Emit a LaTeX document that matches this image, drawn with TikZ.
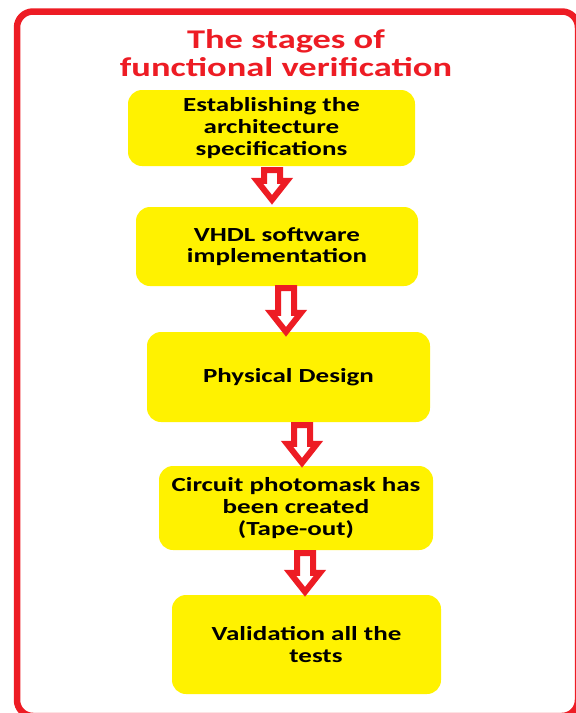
\documentclass[tikz,border=0pt]{standalone}
\usepackage{fontspec}
\setmainfont{Carlito}[FakeStretch=1.35]
\usetikzlibrary{calc}
\definecolor{framered}{RGB}{237,28,36}
\definecolor{stageyellow}{RGB}{255,242,0}
\tikzset{every node/.style={inner sep=0pt},
  stage/.style={fill=stageyellow, rounded corners=14pt, align=center,
                font=\fontsize{20}{21.7}\selectfont\bfseries},
  heading/.style={text=framered, align=center,
                font=\fontsize{27}{27.6}\selectfont\bfseries},
  stagearrow/.style={draw=framered, fill=white, line width=6pt, to path={
    let \p1=(\tikztostart), \p2=(\tikztotarget) in
    (\x1-8pt,\y1) -- (\x1-8pt,\y2+19pt) -- (\x1-15pt,\y2+19pt) -- (\x1,\y2)
    -- (\x1+15pt,\y2+19pt) -- (\x1+8pt,\y2+19pt) -- (\x1+8pt,\y1) -- cycle}}}

\begin{document}
\begin{tikzpicture}[x=1pt,y=-1pt]
   \useasboundingbox (0,0) rectangle (576,713);
   \clip (0,0) rectangle (576,713);
   % outer frame
   \draw[framered, line width=6.5pt, rounded corners=16pt] (17,11.5) rectangle (578,716);
   \node[heading] (title) at (286,53) {The stages of\\functional verification};
   % the stages
   \node[stage, minimum width=287pt, minimum height=76pt] (s1) at (271.5,128)
        {Establishing the\\architecture\\specifications};
   \node[stage, minimum width=282pt, minimum height=79pt] (s2) at (277,246.5)
        {VHDL software\\implementation};
   \node[stage, minimum width=283pt, minimum height=90pt] (s3) at (288.5,377)
        {Physical Design};
   \node[stage, minimum width=274pt, minimum height=84pt] (s4) at (296,508)
        {Circuit photomask has\\been created\\(Tape-out)};
   \node[stage, minimum width=269pt, minimum height=99pt] (s5) at (306.5,644.5)
        {Validation all the\\\hspace*{19pt}tests};
   % hollow arrows between the stages
   \draw[stagearrow] ([xshift=0.5pt,yshift=-4pt]s1.south) to ([xshift=0.5pt,yshift=7pt]s2.north);
   \draw[stagearrow] ([xshift=9pt,yshift=-2pt]s2.south) to ([xshift=9pt]s3.north);
   \draw[stagearrow] ([xshift=13.5pt,yshift=-3pt]s3.south) to ([xshift=13.5pt,yshift=3pt]s4.north);
   \draw[stagearrow] ([xshift=9pt,yshift=-3pt]s4.south) to ([xshift=9pt,yshift=3pt]s5.north);
\end{tikzpicture}
\end{document}
